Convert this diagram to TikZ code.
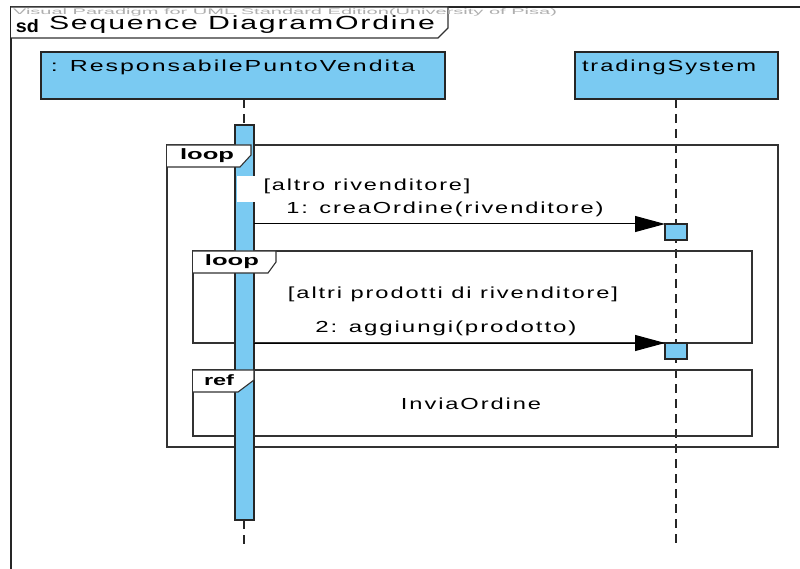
\documentclass[tikz,border=0pt]{standalone}
\usepackage{fontspec}
\setmainfont{Liberation Sans}
\usetikzlibrary{arrows.meta}
\definecolor{lifeblue}{RGB}{122,202,242}
\definecolor{framegray}{RGB}{50,50,50}
\definecolor{wmgray}{RGB}{175,175,175}
\newcommand{\wbox}[2]{\resizebox{#1pt}{\height}{#2}}
\begin{document}
\begin{tikzpicture}[x=1pt,y=-1pt,
  every node/.style={inner sep=0pt, outer sep=0pt},
  txt/.style={font=\fontsize{16}{18}\selectfont\addfontfeature{LetterSpace=8}},
  tabtxt/.style={font=\bfseries\fontsize{15}{17}\selectfont},
  frameline/.style={draw=framegray, line width=1.3pt},
  tabshape/.style={draw=framegray, line width=1.1pt, fill=white},
  lifebox/.style={draw=black!85, line width=1.2pt, fill=lifeblue, anchor=north west},
  lifeline/.style={draw=black!85, line width=1.6pt, dash pattern=on 9pt off 6pt},
  msg/.style={draw=black, line width=1pt, -{Triangle[length=30pt,width=16pt]}},
  ]
\useasboundingbox (0,0) rectangle (800,569);
\clip (0,0) rectangle (800,569);
\fill[white] (0,0) rectangle (800,569);

% outer sd frame
\draw[line width=1.6pt, draw=black!85] (11,580) -- (11,7) -- (810,7);
\draw[tabshape] (11,7) -- (448,7) -- (448,28) -- (438,38) -- (11,38);
\node[anchor=west, text=wmgray, font=\fontsize{8}{10}\selectfont] (wm) at (13,12)
  {\wbox{544}{Visual Paradigm for UML Standard Edition(University of Pisa)}};
\node[anchor=west, font=\bfseries\fontsize{18}{20}\selectfont] (sd) at (16,26) {\wbox{23}{sd}};
\node[anchor=west, font=\fontsize{19}{21}\selectfont\addfontfeature{LetterSpace=6}] (title) at (49,25)
  {\wbox{386}{Sequence DiagramOrdine}};

% lifeline heads
\node[lifebox, minimum width=404pt, minimum height=47pt] (ll1) at (41,52) {};
\node[txt] (ll1t) at (233,67) {\wbox{364}{: ResponsabilePuntoVendita}};
\node[lifebox, minimum width=203pt, minimum height=47pt] (ll2) at (575,52) {};
\node[txt] (ll2t) at (669,67) {\wbox{174}{tradingSystem}};

% lifeline dashed lines
\coordinate (l1a) at (244,99);
\coordinate (l1b) at (244,125);
\coordinate (l1c) at (244,520);
\coordinate (l1d) at (244,548);
\coordinate (l2a) at (676,99);
\coordinate (l2b) at (676,548);
\draw[lifeline] (l1a) -- (l1b);
\draw[lifeline] (l1c) -- (l1d);
\draw[lifeline] (l2a) -- (l2b);

% combined fragments
\draw[frameline] (167,145) rectangle (778,447);
\draw[frameline] (193,251) rectangle (752,343);
\draw[frameline] (193,370) rectangle (752,436);

% activation bar of the first lifeline
\node[lifebox, minimum width=19pt, minimum height=395pt] (bar) at (235,125) {};

% fragment tabs
\draw[tabshape] (167,145) -- (251,145) -- (251,155) -- (240,167) -- (167,167);
\node[tabtxt] (loop1) at (207,156) {\wbox{54}{loop}};
\draw[tabshape] (193,251) -- (276,251) -- (276,262) -- (268,273) -- (193,273);
\node[tabtxt] (loop2) at (232,262) {\wbox{54}{loop}};
\draw[tabshape] (193,370) -- (254,370) -- (254,380) -- (238,392) -- (193,392);
\node[tabtxt] (ref) at (219,380) {\wbox{30}{ref}};
\node[txt] (refname) at (471,404) {\wbox{140}{InviaOrdine}};

% guards
\fill[white] (237,176) rectangle (475,202);
\node[txt] (g1) at (367,186) {\wbox{207}{[altro rivenditore]}};
\node[txt] (g2) at (453,294) {\wbox{330}{[altri prodotti di rivenditore]}};

% activations on tradingSystem
\node[lifebox, minimum width=22pt, minimum height=16pt] (act1) at (665,224) {};
\node[lifebox, minimum width=22pt, minimum height=16pt] (act2) at (665,343) {};

% messages
\coordinate (m1s) at (bar.east |- act1.north west);
\coordinate (m2s) at (bar.east |- act2.north west);
\draw[msg] (m1s) -- (act1.north west);
\draw[msg] (m2s) -- (act2.north west);
\node[txt] (m1) at (445,209) {\wbox{317}{1: creaOrdine(rivenditore)}};
\node[txt] (m2) at (446,328) {\wbox{261}{2: aggiungi(prodotto)}};
\end{tikzpicture}
\end{document}
